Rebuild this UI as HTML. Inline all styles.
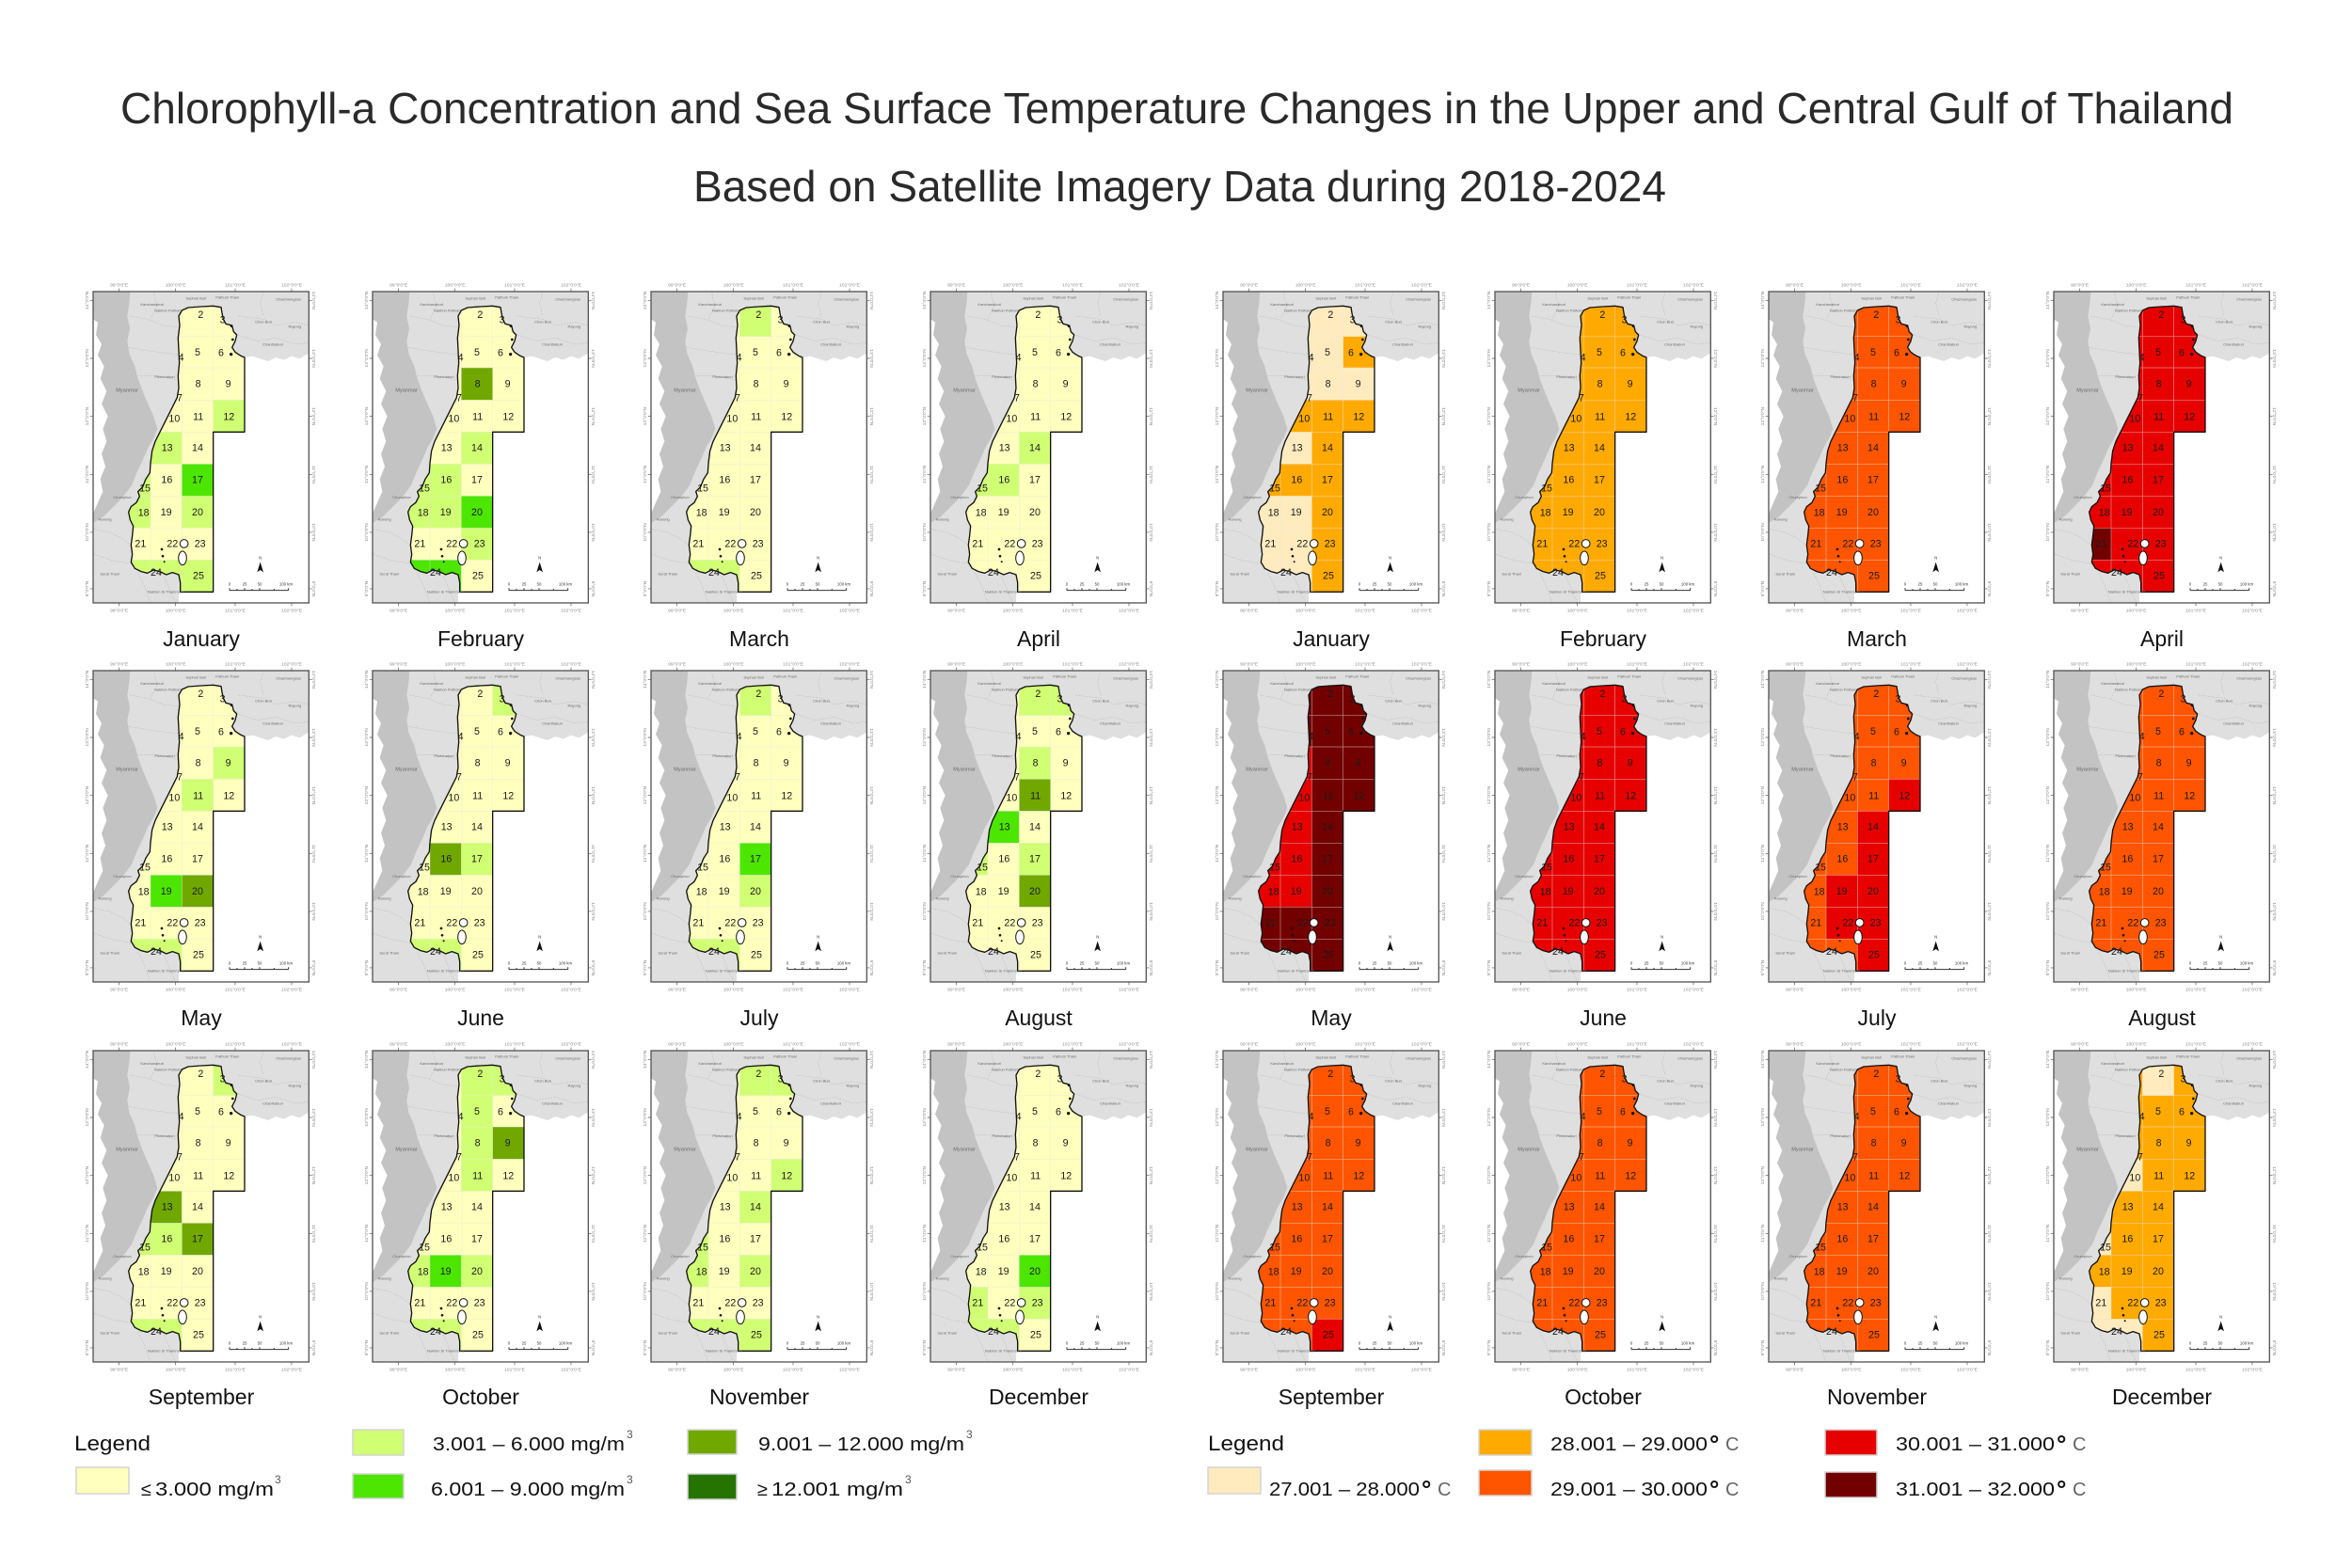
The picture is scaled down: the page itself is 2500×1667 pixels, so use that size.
<!DOCTYPE html>
<html><head><meta charset="utf-8"><style>
html,body{margin:0;padding:0;background:#fff}
svg{display:block}
svg text{font-family:"Liberation Sans",sans-serif}
.n{font-size:32px;text-anchor:middle;fill:#1a1a1a}
.t{font-size:15px;text-anchor:middle;fill:#8a8a8a}
.p{font-size:12px;fill:#6a6a6a;text-anchor:middle}
.s{font-size:13px;fill:#333;text-anchor:middle}
.m{font-size:23px;text-anchor:middle;fill:#111}
.Y{fill:#FFFFBE}.L{fill:#D1FF73}.B{fill:#4CE600}.O{fill:#70A800}.D{fill:#267300}
.a{fill:#FFEBBE}.b{fill:#FFAA00}.c{fill:#FF5500}.d{fill:#E60000}.e{fill:#730000}
</style></head><body>
<svg width="2500" height="1667" viewBox="0 0 2500 1667" xmlns="http://www.w3.org/2000/svg">
<defs>
<clipPath id="cp"><polygon points="340,122 360,113 400,110 440,108 465,112 468,130 472,150 480,165 500,170 505,190 515,200 510,220 500,240 510,255 520,262 530,268 540,272 540,510 440,510 440,1020 335,1020 335,990 330,965 310,958 290,965 270,955 250,950 230,960 210,955 190,945 178,925 182,900 178,870 182,840 185,810 175,790 170,765 178,748 195,735 205,715 200,700 215,685 225,660 238,640 240,610 245,570 255,540 270,510 285,480 295,460 310,430 325,400 330,370 328,330 332,290 330,250 328,210 333,170 330,140"/></clipPath>
<rect id="k1" x="240" y="100" width="100" height="105"/>
<rect id="k2" x="340" y="100" width="100" height="105"/>
<rect id="k3" x="440" y="100" width="105" height="105"/>
<rect id="k4" x="240" y="205" width="100" height="100"/>
<rect id="k5" x="340" y="205" width="100" height="100"/>
<rect id="k6" x="440" y="205" width="105" height="100"/>
<rect id="k7" x="240" y="305" width="100" height="103"/>
<rect id="k8" x="340" y="305" width="100" height="103"/>
<rect id="k9" x="440" y="305" width="105" height="103"/>
<rect id="k10" x="240" y="408" width="100" height="102"/>
<rect id="k11" x="340" y="408" width="100" height="102"/>
<rect id="k12" x="440" y="408" width="105" height="102"/>
<rect id="k13" x="240" y="510" width="100" height="102"/>
<rect id="k14" x="340" y="510" width="100" height="102"/>
<rect id="k15" x="150" y="612" width="90" height="102"/>
<rect id="k16" x="240" y="612" width="100" height="102"/>
<rect id="k17" x="340" y="612" width="100" height="102"/>
<rect id="k18" x="150" y="714" width="90" height="102"/>
<rect id="k19" x="240" y="714" width="100" height="102"/>
<rect id="k20" x="340" y="714" width="100" height="102"/>
<rect id="k21" x="150" y="816" width="90" height="102"/>
<rect id="k22" x="240" y="816" width="100" height="102"/>
<rect id="k23" x="340" y="816" width="100" height="102"/>
<rect id="k24" x="150" y="918" width="190" height="107"/>
<rect id="k25" x="340" y="918" width="100" height="107"/>
<g id="bg">
<rect x="57" y="62" width="688" height="993" fill="#dfdfdf"/>
<polygon points="57,62 175,62 172,100 166,140 174,180 166,220 172,260 190,300 200,340 215,380 232,420 250,460 262,500 250,530 232,560 215,600 196,640 180,680 150,720 120,750 90,780 57,800" fill="#c3c3c3"/>
<polygon points="57,150 72,160 66,200 84,230 72,265 92,300 80,340 100,380 84,420 104,460 88,500 100,540 84,580 96,620 80,660 88,700 70,740 57,770" fill="#fff"/>
<polygon points="540,272 565,268 590,276 615,284 640,272 665,280 690,268 715,276 745,258 745,1055 330,1055 330,1020 440,1020 440,510 540,510" fill="#fff"/>
<g fill="none" stroke="#b3b3b3" stroke-width="1.5" stroke-dasharray="5 4">
<polyline points="175,140 230,150 280,170 330,175"/>
<polyline points="170,240 230,250 300,260 330,262"/>
<polyline points="200,330 260,330 330,345"/>
<polyline points="520,140 600,150 640,170 700,160 745,170"/>
<polyline points="520,200 580,220 640,210 700,230 745,225"/>
<polyline points="600,62 590,100 600,140"/>
<polyline points="250,62 260,110 240,150"/>
<polyline points="60,820 110,830 150,850 175,870"/>
<polyline points="60,900 120,920 178,930"/>
<polyline points="200,960 220,1000 240,1055"/>
<polyline points="280,960 300,1010 320,1055"/>
</g>
</g>
<g id="grid" fill="none" stroke="#e6e6e6" stroke-opacity=".6" stroke-width="2"><path d="M240 510V1020M340 100V1020M440 100V510M330 205H540M330 305H540M320 408H540M240 510H540M150 612H440M150 714H440M150 816H440M150 918H440"/></g>
<g id="fg">
<polygon points="340,122 360,113 400,110 440,108 465,112 468,130 472,150 480,165 500,170 505,190 515,200 510,220 500,240 510,255 520,262 530,268 540,272 540,510 440,510 440,1020 335,1020 335,990 330,965 310,958 290,965 270,955 250,950 230,960 210,955 190,945 178,925 182,900 178,870 182,840 185,810 175,790 170,765 178,748 195,735 205,715 200,700 215,685 225,660 238,640 240,610 245,570 255,540 270,510 285,480 295,460 310,430 325,400 330,370 328,330 332,290 330,250 328,210 333,170 330,140" fill="none" stroke="#111" stroke-width="4" stroke-linejoin="round"/>
<ellipse cx="347" cy="866" rx="13" ry="13" fill="#fff" stroke="#111" stroke-width="3"/>
<ellipse cx="342" cy="912" rx="13" ry="22" fill="#fff" stroke="#111" stroke-width="3"/>
<g fill="#111"><circle cx="498" cy="172" r="4"/><circle cx="502" cy="215" r="4"/><circle cx="497" cy="262" r="5"/><circle cx="276" cy="884" r="4"/><circle cx="279" cy="906" r="4"/><circle cx="284" cy="924" r="3"/></g>
<rect x="57" y="62" width="688" height="993" fill="none" stroke="#555" stroke-width="4"/>
<path d="M140 52v10M320 52v10M510 52v10M690 52v10M140 1055v10M320 1055v10M510 1055v10M690 1055v10M47 90h10M47 275h10M47 460h10M47 645h10M47 830h10M47 1010h10M745 90h10M745 275h10M745 460h10M745 645h10M745 830h10M745 1010h10" stroke="#555" stroke-width="2"/>
<polygon points="590,925 580,957 590,950 600,957" fill="#111"/>
<path d="M492 1015H680M492 1008v7M516 1010v5M540 1008v7M564 1010v5M588 1008v7M634 1010v5M680 1008v7" stroke="#333" stroke-width="3" fill="none"/>
</g>
</defs>

<text x="128" y="131" textLength="2246" lengthAdjust="spacingAndGlyphs" style="font-size:46px;fill:#2a2a2a">Chlorophyll-a Concentration and Sea Surface Temperature Changes in the Upper and Central Gulf of Thailand</text>
<text x="737" y="214" textLength="1034" lengthAdjust="spacingAndGlyphs" style="font-size:46px;fill:#2a2a2a">Based on Satellite Imagery Data during 2018-2024</text>

<!-- ===== Chl Jan ===== -->
<g transform="translate(80 289.33) scale(.3333)">
<use href="#bg"/>
<g clip-path="url(#cp)"><rect x="100" y="90" width="460" height="950" class="Y"/><use href="#k12" class="L"/><use href="#k13" class="L"/><use href="#k15" class="L"/><use href="#k18" class="L"/><use href="#k20" class="L"/><use href="#k24" class="L"/><use href="#k25" class="L"/><use href="#k17" class="B"/><use href="#grid"/></g>
<use href="#fg"/>
<g class="n"><text x="400" y="146">2</text><text x="470" y="163">3</text><text x="338" y="283">4</text><text x="390" y="266">5</text><text x="465" y="268">6</text><text x="333" y="411">7</text><text x="392" y="366">8</text><text x="488" y="366">9</text><text x="316" y="477">10</text><text x="392" y="471">11</text><text x="490" y="471">12</text><text x="293" y="571">13</text><text x="390" y="571">14</text><text x="222" y="699">15</text><text x="292" y="673">16</text><text x="390" y="673">17</text><text x="218" y="778">18</text><text x="290" y="776">19</text><text x="390" y="776">20</text><text x="208" y="876">21</text><text x="310" y="876">22</text><text x="398" y="876">23</text><text x="258" y="968">24</text><text x="393" y="979">25</text></g>
<g class="t"><text x="140" y="46">99°0′0″E</text><text x="320" y="46">100°0′0″E</text><text x="510" y="46">101°0′0″E</text><text x="690" y="46">102°0′0″E</text><text x="140" y="1083">99°0′0″E</text><text x="320" y="1083">100°0′0″E</text><text x="510" y="1083">101°0′0″E</text><text x="690" y="1083">102°0′0″E</text><g transform="rotate(-90)"><text x="-90" y="42">14°0′0″N</text><text x="-275" y="42">13°0′0″N</text><text x="-460" y="42">12°0′0″N</text><text x="-645" y="42">11°0′0″N</text><text x="-830" y="42">10°0′0″N</text><text x="-1010" y="42">9°0′0″N</text></g><g transform="rotate(90)"><text x="90" y="-756">14°0′0″N</text><text x="275" y="-756">13°0′0″N</text><text x="460" y="-756">12°0′0″N</text><text x="645" y="-756">11°0′0″N</text><text x="830" y="-756">10°0′0″N</text><text x="1010" y="-756">9°0′0″N</text></g></g>
<g class="p"><text x="165" y="382" font-size="17">Myanmar</text><text x="245" y="107">Kanchanaburi</text><text x="385" y="88">Suphan Buri</text><text x="295" y="127">Nakhon Pathom</text><text x="485" y="84">Pathum Thani</text><text x="680" y="90">Chachoengsao</text><text x="600" y="162">Chon Buri</text><text x="700" y="177">Rayong</text><text x="630" y="235">Chanthaburi</text><text x="285" y="338">Phetchaburi</text><text x="150" y="722">Chumphon</text><text x="95" y="792">Ranong</text><text x="110" y="966">Surat Thani</text><text x="290" y="1024">Nakhon Si Thammarat</text></g>
<g class="s"><text x="492" y="1000">0</text><text x="540" y="1000">25</text><text x="588" y="1000">50</text><text x="672" y="1000">100 km</text><text x="590" y="915">N</text></g>
</g>

<!-- ===== Chl Feb ===== -->
<g transform="translate(377 289.33) scale(.3333)">
<use href="#bg"/>
<g clip-path="url(#cp)"><rect x="100" y="90" width="460" height="950" class="Y"/><use href="#k8" class="O"/><use href="#k14" class="L"/><use href="#k15" class="L"/><use href="#k16" class="L"/><use href="#k18" class="L"/><use href="#k19" class="L"/><use href="#k23" class="L"/><use href="#k20" class="B"/><use href="#k24" class="B"/><use href="#grid"/></g>
<use href="#fg"/>
<g class="n"><text x="400" y="146">2</text><text x="470" y="163">3</text><text x="338" y="283">4</text><text x="390" y="266">5</text><text x="465" y="268">6</text><text x="333" y="411">7</text><text x="392" y="366">8</text><text x="488" y="366">9</text><text x="316" y="477">10</text><text x="392" y="471">11</text><text x="490" y="471">12</text><text x="293" y="571">13</text><text x="390" y="571">14</text><text x="222" y="699">15</text><text x="292" y="673">16</text><text x="390" y="673">17</text><text x="218" y="778">18</text><text x="290" y="776">19</text><text x="390" y="776">20</text><text x="208" y="876">21</text><text x="310" y="876">22</text><text x="398" y="876">23</text><text x="258" y="968">24</text><text x="393" y="979">25</text></g>
<g class="t"><text x="140" y="46">99°0′0″E</text><text x="320" y="46">100°0′0″E</text><text x="510" y="46">101°0′0″E</text><text x="690" y="46">102°0′0″E</text><text x="140" y="1083">99°0′0″E</text><text x="320" y="1083">100°0′0″E</text><text x="510" y="1083">101°0′0″E</text><text x="690" y="1083">102°0′0″E</text><g transform="rotate(-90)"><text x="-90" y="42">14°0′0″N</text><text x="-275" y="42">13°0′0″N</text><text x="-460" y="42">12°0′0″N</text><text x="-645" y="42">11°0′0″N</text><text x="-830" y="42">10°0′0″N</text><text x="-1010" y="42">9°0′0″N</text></g><g transform="rotate(90)"><text x="90" y="-756">14°0′0″N</text><text x="275" y="-756">13°0′0″N</text><text x="460" y="-756">12°0′0″N</text><text x="645" y="-756">11°0′0″N</text><text x="830" y="-756">10°0′0″N</text><text x="1010" y="-756">9°0′0″N</text></g></g>
<g class="p"><text x="165" y="382" font-size="17">Myanmar</text><text x="245" y="107">Kanchanaburi</text><text x="385" y="88">Suphan Buri</text><text x="295" y="127">Nakhon Pathom</text><text x="485" y="84">Pathum Thani</text><text x="680" y="90">Chachoengsao</text><text x="600" y="162">Chon Buri</text><text x="700" y="177">Rayong</text><text x="630" y="235">Chanthaburi</text><text x="285" y="338">Phetchaburi</text><text x="150" y="722">Chumphon</text><text x="95" y="792">Ranong</text><text x="110" y="966">Surat Thani</text><text x="290" y="1024">Nakhon Si Thammarat</text></g>
<g class="s"><text x="492" y="1000">0</text><text x="540" y="1000">25</text><text x="588" y="1000">50</text><text x="672" y="1000">100 km</text><text x="590" y="915">N</text></g>
</g>

<!-- ===== Chl Mar ===== -->
<g transform="translate(673 289.33) scale(.3333)">
<use href="#bg"/>
<g clip-path="url(#cp)"><rect x="100" y="90" width="460" height="950" class="Y"/><use href="#k2" class="L"/><use href="#k24" class="L"/><use href="#grid"/></g>
<use href="#fg"/>
<g class="n"><text x="400" y="146">2</text><text x="470" y="163">3</text><text x="338" y="283">4</text><text x="390" y="266">5</text><text x="465" y="268">6</text><text x="333" y="411">7</text><text x="392" y="366">8</text><text x="488" y="366">9</text><text x="316" y="477">10</text><text x="392" y="471">11</text><text x="490" y="471">12</text><text x="293" y="571">13</text><text x="390" y="571">14</text><text x="222" y="699">15</text><text x="292" y="673">16</text><text x="390" y="673">17</text><text x="218" y="778">18</text><text x="290" y="776">19</text><text x="390" y="776">20</text><text x="208" y="876">21</text><text x="310" y="876">22</text><text x="398" y="876">23</text><text x="258" y="968">24</text><text x="393" y="979">25</text></g>
<g class="t"><text x="140" y="46">99°0′0″E</text><text x="320" y="46">100°0′0″E</text><text x="510" y="46">101°0′0″E</text><text x="690" y="46">102°0′0″E</text><text x="140" y="1083">99°0′0″E</text><text x="320" y="1083">100°0′0″E</text><text x="510" y="1083">101°0′0″E</text><text x="690" y="1083">102°0′0″E</text><g transform="rotate(-90)"><text x="-90" y="42">14°0′0″N</text><text x="-275" y="42">13°0′0″N</text><text x="-460" y="42">12°0′0″N</text><text x="-645" y="42">11°0′0″N</text><text x="-830" y="42">10°0′0″N</text><text x="-1010" y="42">9°0′0″N</text></g><g transform="rotate(90)"><text x="90" y="-756">14°0′0″N</text><text x="275" y="-756">13°0′0″N</text><text x="460" y="-756">12°0′0″N</text><text x="645" y="-756">11°0′0″N</text><text x="830" y="-756">10°0′0″N</text><text x="1010" y="-756">9°0′0″N</text></g></g>
<g class="p"><text x="165" y="382" font-size="17">Myanmar</text><text x="245" y="107">Kanchanaburi</text><text x="385" y="88">Suphan Buri</text><text x="295" y="127">Nakhon Pathom</text><text x="485" y="84">Pathum Thani</text><text x="680" y="90">Chachoengsao</text><text x="600" y="162">Chon Buri</text><text x="700" y="177">Rayong</text><text x="630" y="235">Chanthaburi</text><text x="285" y="338">Phetchaburi</text><text x="150" y="722">Chumphon</text><text x="95" y="792">Ranong</text><text x="110" y="966">Surat Thani</text><text x="290" y="1024">Nakhon Si Thammarat</text></g>
<g class="s"><text x="492" y="1000">0</text><text x="540" y="1000">25</text><text x="588" y="1000">50</text><text x="672" y="1000">100 km</text><text x="590" y="915">N</text></g>
</g>

<!-- ===== Chl Apr ===== -->
<g transform="translate(970 289.33) scale(.3333)">
<use href="#bg"/>
<g clip-path="url(#cp)"><rect x="100" y="90" width="460" height="950" class="Y"/><use href="#k14" class="L"/><use href="#k15" class="L"/><use href="#k16" class="L"/><use href="#grid"/></g>
<use href="#fg"/>
<g class="n"><text x="400" y="146">2</text><text x="470" y="163">3</text><text x="338" y="283">4</text><text x="390" y="266">5</text><text x="465" y="268">6</text><text x="333" y="411">7</text><text x="392" y="366">8</text><text x="488" y="366">9</text><text x="316" y="477">10</text><text x="392" y="471">11</text><text x="490" y="471">12</text><text x="293" y="571">13</text><text x="390" y="571">14</text><text x="222" y="699">15</text><text x="292" y="673">16</text><text x="390" y="673">17</text><text x="218" y="778">18</text><text x="290" y="776">19</text><text x="390" y="776">20</text><text x="208" y="876">21</text><text x="310" y="876">22</text><text x="398" y="876">23</text><text x="258" y="968">24</text><text x="393" y="979">25</text></g>
<g class="t"><text x="140" y="46">99°0′0″E</text><text x="320" y="46">100°0′0″E</text><text x="510" y="46">101°0′0″E</text><text x="690" y="46">102°0′0″E</text><text x="140" y="1083">99°0′0″E</text><text x="320" y="1083">100°0′0″E</text><text x="510" y="1083">101°0′0″E</text><text x="690" y="1083">102°0′0″E</text><g transform="rotate(-90)"><text x="-90" y="42">14°0′0″N</text><text x="-275" y="42">13°0′0″N</text><text x="-460" y="42">12°0′0″N</text><text x="-645" y="42">11°0′0″N</text><text x="-830" y="42">10°0′0″N</text><text x="-1010" y="42">9°0′0″N</text></g><g transform="rotate(90)"><text x="90" y="-756">14°0′0″N</text><text x="275" y="-756">13°0′0″N</text><text x="460" y="-756">12°0′0″N</text><text x="645" y="-756">11°0′0″N</text><text x="830" y="-756">10°0′0″N</text><text x="1010" y="-756">9°0′0″N</text></g></g>
<g class="p"><text x="165" y="382" font-size="17">Myanmar</text><text x="245" y="107">Kanchanaburi</text><text x="385" y="88">Suphan Buri</text><text x="295" y="127">Nakhon Pathom</text><text x="485" y="84">Pathum Thani</text><text x="680" y="90">Chachoengsao</text><text x="600" y="162">Chon Buri</text><text x="700" y="177">Rayong</text><text x="630" y="235">Chanthaburi</text><text x="285" y="338">Phetchaburi</text><text x="150" y="722">Chumphon</text><text x="95" y="792">Ranong</text><text x="110" y="966">Surat Thani</text><text x="290" y="1024">Nakhon Si Thammarat</text></g>
<g class="s"><text x="492" y="1000">0</text><text x="540" y="1000">25</text><text x="588" y="1000">50</text><text x="672" y="1000">100 km</text><text x="590" y="915">N</text></g>
</g>

<!-- ===== Chl May ===== -->
<g transform="translate(80 692.33) scale(.3333)">
<use href="#bg"/>
<g clip-path="url(#cp)"><rect x="100" y="90" width="460" height="950" class="Y"/><use href="#k9" class="L"/><use href="#k11" class="L"/><use href="#k24" class="L"/><use href="#k19" class="B"/><use href="#k20" class="O"/><use href="#grid"/></g>
<use href="#fg"/>
<g class="n"><text x="400" y="146">2</text><text x="470" y="163">3</text><text x="338" y="283">4</text><text x="390" y="266">5</text><text x="465" y="268">6</text><text x="333" y="411">7</text><text x="392" y="366">8</text><text x="488" y="366">9</text><text x="316" y="477">10</text><text x="392" y="471">11</text><text x="490" y="471">12</text><text x="293" y="571">13</text><text x="390" y="571">14</text><text x="222" y="699">15</text><text x="292" y="673">16</text><text x="390" y="673">17</text><text x="218" y="778">18</text><text x="290" y="776">19</text><text x="390" y="776">20</text><text x="208" y="876">21</text><text x="310" y="876">22</text><text x="398" y="876">23</text><text x="258" y="968">24</text><text x="393" y="979">25</text></g>
<g class="t"><text x="140" y="46">99°0′0″E</text><text x="320" y="46">100°0′0″E</text><text x="510" y="46">101°0′0″E</text><text x="690" y="46">102°0′0″E</text><text x="140" y="1083">99°0′0″E</text><text x="320" y="1083">100°0′0″E</text><text x="510" y="1083">101°0′0″E</text><text x="690" y="1083">102°0′0″E</text><g transform="rotate(-90)"><text x="-90" y="42">14°0′0″N</text><text x="-275" y="42">13°0′0″N</text><text x="-460" y="42">12°0′0″N</text><text x="-645" y="42">11°0′0″N</text><text x="-830" y="42">10°0′0″N</text><text x="-1010" y="42">9°0′0″N</text></g><g transform="rotate(90)"><text x="90" y="-756">14°0′0″N</text><text x="275" y="-756">13°0′0″N</text><text x="460" y="-756">12°0′0″N</text><text x="645" y="-756">11°0′0″N</text><text x="830" y="-756">10°0′0″N</text><text x="1010" y="-756">9°0′0″N</text></g></g>
<g class="p"><text x="165" y="382" font-size="17">Myanmar</text><text x="245" y="107">Kanchanaburi</text><text x="385" y="88">Suphan Buri</text><text x="295" y="127">Nakhon Pathom</text><text x="485" y="84">Pathum Thani</text><text x="680" y="90">Chachoengsao</text><text x="600" y="162">Chon Buri</text><text x="700" y="177">Rayong</text><text x="630" y="235">Chanthaburi</text><text x="285" y="338">Phetchaburi</text><text x="150" y="722">Chumphon</text><text x="95" y="792">Ranong</text><text x="110" y="966">Surat Thani</text><text x="290" y="1024">Nakhon Si Thammarat</text></g>
<g class="s"><text x="492" y="1000">0</text><text x="540" y="1000">25</text><text x="588" y="1000">50</text><text x="672" y="1000">100 km</text><text x="590" y="915">N</text></g>
</g>

<!-- ===== Chl Jun ===== -->
<g transform="translate(377 692.33) scale(.3333)">
<use href="#bg"/>
<g clip-path="url(#cp)"><rect x="100" y="90" width="460" height="950" class="Y"/><use href="#k3" class="L"/><use href="#k17" class="L"/><use href="#k24" class="L"/><use href="#k16" class="O"/><use href="#grid"/></g>
<use href="#fg"/>
<g class="n"><text x="400" y="146">2</text><text x="470" y="163">3</text><text x="338" y="283">4</text><text x="390" y="266">5</text><text x="465" y="268">6</text><text x="333" y="411">7</text><text x="392" y="366">8</text><text x="488" y="366">9</text><text x="316" y="477">10</text><text x="392" y="471">11</text><text x="490" y="471">12</text><text x="293" y="571">13</text><text x="390" y="571">14</text><text x="222" y="699">15</text><text x="292" y="673">16</text><text x="390" y="673">17</text><text x="218" y="778">18</text><text x="290" y="776">19</text><text x="390" y="776">20</text><text x="208" y="876">21</text><text x="310" y="876">22</text><text x="398" y="876">23</text><text x="258" y="968">24</text><text x="393" y="979">25</text></g>
<g class="t"><text x="140" y="46">99°0′0″E</text><text x="320" y="46">100°0′0″E</text><text x="510" y="46">101°0′0″E</text><text x="690" y="46">102°0′0″E</text><text x="140" y="1083">99°0′0″E</text><text x="320" y="1083">100°0′0″E</text><text x="510" y="1083">101°0′0″E</text><text x="690" y="1083">102°0′0″E</text><g transform="rotate(-90)"><text x="-90" y="42">14°0′0″N</text><text x="-275" y="42">13°0′0″N</text><text x="-460" y="42">12°0′0″N</text><text x="-645" y="42">11°0′0″N</text><text x="-830" y="42">10°0′0″N</text><text x="-1010" y="42">9°0′0″N</text></g><g transform="rotate(90)"><text x="90" y="-756">14°0′0″N</text><text x="275" y="-756">13°0′0″N</text><text x="460" y="-756">12°0′0″N</text><text x="645" y="-756">11°0′0″N</text><text x="830" y="-756">10°0′0″N</text><text x="1010" y="-756">9°0′0″N</text></g></g>
<g class="p"><text x="165" y="382" font-size="17">Myanmar</text><text x="245" y="107">Kanchanaburi</text><text x="385" y="88">Suphan Buri</text><text x="295" y="127">Nakhon Pathom</text><text x="485" y="84">Pathum Thani</text><text x="680" y="90">Chachoengsao</text><text x="600" y="162">Chon Buri</text><text x="700" y="177">Rayong</text><text x="630" y="235">Chanthaburi</text><text x="285" y="338">Phetchaburi</text><text x="150" y="722">Chumphon</text><text x="95" y="792">Ranong</text><text x="110" y="966">Surat Thani</text><text x="290" y="1024">Nakhon Si Thammarat</text></g>
<g class="s"><text x="492" y="1000">0</text><text x="540" y="1000">25</text><text x="588" y="1000">50</text><text x="672" y="1000">100 km</text><text x="590" y="915">N</text></g>
</g>

<!-- ===== Chl Jul ===== -->
<g transform="translate(673 692.33) scale(.3333)">
<use href="#bg"/>
<g clip-path="url(#cp)"><rect x="100" y="90" width="460" height="950" class="Y"/><use href="#k2" class="L"/><use href="#k20" class="L"/><use href="#k24" class="L"/><use href="#k17" class="B"/><use href="#grid"/></g>
<use href="#fg"/>
<g class="n"><text x="400" y="146">2</text><text x="470" y="163">3</text><text x="338" y="283">4</text><text x="390" y="266">5</text><text x="465" y="268">6</text><text x="333" y="411">7</text><text x="392" y="366">8</text><text x="488" y="366">9</text><text x="316" y="477">10</text><text x="392" y="471">11</text><text x="490" y="471">12</text><text x="293" y="571">13</text><text x="390" y="571">14</text><text x="222" y="699">15</text><text x="292" y="673">16</text><text x="390" y="673">17</text><text x="218" y="778">18</text><text x="290" y="776">19</text><text x="390" y="776">20</text><text x="208" y="876">21</text><text x="310" y="876">22</text><text x="398" y="876">23</text><text x="258" y="968">24</text><text x="393" y="979">25</text></g>
<g class="t"><text x="140" y="46">99°0′0″E</text><text x="320" y="46">100°0′0″E</text><text x="510" y="46">101°0′0″E</text><text x="690" y="46">102°0′0″E</text><text x="140" y="1083">99°0′0″E</text><text x="320" y="1083">100°0′0″E</text><text x="510" y="1083">101°0′0″E</text><text x="690" y="1083">102°0′0″E</text><g transform="rotate(-90)"><text x="-90" y="42">14°0′0″N</text><text x="-275" y="42">13°0′0″N</text><text x="-460" y="42">12°0′0″N</text><text x="-645" y="42">11°0′0″N</text><text x="-830" y="42">10°0′0″N</text><text x="-1010" y="42">9°0′0″N</text></g><g transform="rotate(90)"><text x="90" y="-756">14°0′0″N</text><text x="275" y="-756">13°0′0″N</text><text x="460" y="-756">12°0′0″N</text><text x="645" y="-756">11°0′0″N</text><text x="830" y="-756">10°0′0″N</text><text x="1010" y="-756">9°0′0″N</text></g></g>
<g class="p"><text x="165" y="382" font-size="17">Myanmar</text><text x="245" y="107">Kanchanaburi</text><text x="385" y="88">Suphan Buri</text><text x="295" y="127">Nakhon Pathom</text><text x="485" y="84">Pathum Thani</text><text x="680" y="90">Chachoengsao</text><text x="600" y="162">Chon Buri</text><text x="700" y="177">Rayong</text><text x="630" y="235">Chanthaburi</text><text x="285" y="338">Phetchaburi</text><text x="150" y="722">Chumphon</text><text x="95" y="792">Ranong</text><text x="110" y="966">Surat Thani</text><text x="290" y="1024">Nakhon Si Thammarat</text></g>
<g class="s"><text x="492" y="1000">0</text><text x="540" y="1000">25</text><text x="588" y="1000">50</text><text x="672" y="1000">100 km</text><text x="590" y="915">N</text></g>
</g>

<!-- ===== Chl Aug ===== -->
<g transform="translate(970 692.33) scale(.3333)">
<use href="#bg"/>
<g clip-path="url(#cp)"><rect x="100" y="90" width="460" height="950" class="Y"/><use href="#k2" class="L"/><use href="#k3" class="L"/><use href="#k8" class="L"/><use href="#k15" class="L"/><use href="#k17" class="L"/><use href="#k11" class="O"/><use href="#k20" class="O"/><use href="#k13" class="B"/><use href="#grid"/></g>
<use href="#fg"/>
<g class="n"><text x="400" y="146">2</text><text x="470" y="163">3</text><text x="338" y="283">4</text><text x="390" y="266">5</text><text x="465" y="268">6</text><text x="333" y="411">7</text><text x="392" y="366">8</text><text x="488" y="366">9</text><text x="316" y="477">10</text><text x="392" y="471">11</text><text x="490" y="471">12</text><text x="293" y="571">13</text><text x="390" y="571">14</text><text x="222" y="699">15</text><text x="292" y="673">16</text><text x="390" y="673">17</text><text x="218" y="778">18</text><text x="290" y="776">19</text><text x="390" y="776">20</text><text x="208" y="876">21</text><text x="310" y="876">22</text><text x="398" y="876">23</text><text x="258" y="968">24</text><text x="393" y="979">25</text></g>
<g class="t"><text x="140" y="46">99°0′0″E</text><text x="320" y="46">100°0′0″E</text><text x="510" y="46">101°0′0″E</text><text x="690" y="46">102°0′0″E</text><text x="140" y="1083">99°0′0″E</text><text x="320" y="1083">100°0′0″E</text><text x="510" y="1083">101°0′0″E</text><text x="690" y="1083">102°0′0″E</text><g transform="rotate(-90)"><text x="-90" y="42">14°0′0″N</text><text x="-275" y="42">13°0′0″N</text><text x="-460" y="42">12°0′0″N</text><text x="-645" y="42">11°0′0″N</text><text x="-830" y="42">10°0′0″N</text><text x="-1010" y="42">9°0′0″N</text></g><g transform="rotate(90)"><text x="90" y="-756">14°0′0″N</text><text x="275" y="-756">13°0′0″N</text><text x="460" y="-756">12°0′0″N</text><text x="645" y="-756">11°0′0″N</text><text x="830" y="-756">10°0′0″N</text><text x="1010" y="-756">9°0′0″N</text></g></g>
<g class="p"><text x="165" y="382" font-size="17">Myanmar</text><text x="245" y="107">Kanchanaburi</text><text x="385" y="88">Suphan Buri</text><text x="295" y="127">Nakhon Pathom</text><text x="485" y="84">Pathum Thani</text><text x="680" y="90">Chachoengsao</text><text x="600" y="162">Chon Buri</text><text x="700" y="177">Rayong</text><text x="630" y="235">Chanthaburi</text><text x="285" y="338">Phetchaburi</text><text x="150" y="722">Chumphon</text><text x="95" y="792">Ranong</text><text x="110" y="966">Surat Thani</text><text x="290" y="1024">Nakhon Si Thammarat</text></g>
<g class="s"><text x="492" y="1000">0</text><text x="540" y="1000">25</text><text x="588" y="1000">50</text><text x="672" y="1000">100 km</text><text x="590" y="915">N</text></g>
</g>

<!-- ===== Chl Sep ===== -->
<g transform="translate(80 1096.33) scale(.3333)">
<use href="#bg"/>
<g clip-path="url(#cp)"><rect x="100" y="90" width="460" height="950" class="Y"/><use href="#k3" class="L"/><use href="#k15" class="L"/><use href="#k16" class="L"/><use href="#k24" class="L"/><use href="#k13" class="O"/><use href="#k17" class="O"/><use href="#grid"/></g>
<use href="#fg"/>
<g class="n"><text x="400" y="146">2</text><text x="470" y="163">3</text><text x="338" y="283">4</text><text x="390" y="266">5</text><text x="465" y="268">6</text><text x="333" y="411">7</text><text x="392" y="366">8</text><text x="488" y="366">9</text><text x="316" y="477">10</text><text x="392" y="471">11</text><text x="490" y="471">12</text><text x="293" y="571">13</text><text x="390" y="571">14</text><text x="222" y="699">15</text><text x="292" y="673">16</text><text x="390" y="673">17</text><text x="218" y="778">18</text><text x="290" y="776">19</text><text x="390" y="776">20</text><text x="208" y="876">21</text><text x="310" y="876">22</text><text x="398" y="876">23</text><text x="258" y="968">24</text><text x="393" y="979">25</text></g>
<g class="t"><text x="140" y="46">99°0′0″E</text><text x="320" y="46">100°0′0″E</text><text x="510" y="46">101°0′0″E</text><text x="690" y="46">102°0′0″E</text><text x="140" y="1083">99°0′0″E</text><text x="320" y="1083">100°0′0″E</text><text x="510" y="1083">101°0′0″E</text><text x="690" y="1083">102°0′0″E</text><g transform="rotate(-90)"><text x="-90" y="42">14°0′0″N</text><text x="-275" y="42">13°0′0″N</text><text x="-460" y="42">12°0′0″N</text><text x="-645" y="42">11°0′0″N</text><text x="-830" y="42">10°0′0″N</text><text x="-1010" y="42">9°0′0″N</text></g><g transform="rotate(90)"><text x="90" y="-756">14°0′0″N</text><text x="275" y="-756">13°0′0″N</text><text x="460" y="-756">12°0′0″N</text><text x="645" y="-756">11°0′0″N</text><text x="830" y="-756">10°0′0″N</text><text x="1010" y="-756">9°0′0″N</text></g></g>
<g class="p"><text x="165" y="382" font-size="17">Myanmar</text><text x="245" y="107">Kanchanaburi</text><text x="385" y="88">Suphan Buri</text><text x="295" y="127">Nakhon Pathom</text><text x="485" y="84">Pathum Thani</text><text x="680" y="90">Chachoengsao</text><text x="600" y="162">Chon Buri</text><text x="700" y="177">Rayong</text><text x="630" y="235">Chanthaburi</text><text x="285" y="338">Phetchaburi</text><text x="150" y="722">Chumphon</text><text x="95" y="792">Ranong</text><text x="110" y="966">Surat Thani</text><text x="290" y="1024">Nakhon Si Thammarat</text></g>
<g class="s"><text x="492" y="1000">0</text><text x="540" y="1000">25</text><text x="588" y="1000">50</text><text x="672" y="1000">100 km</text><text x="590" y="915">N</text></g>
</g>

<!-- ===== Chl Oct ===== -->
<g transform="translate(377 1096.33) scale(.3333)">
<use href="#bg"/>
<g clip-path="url(#cp)"><rect x="100" y="90" width="460" height="950" class="Y"/><use href="#k2" class="L"/><use href="#k3" class="L"/><use href="#k5" class="L"/><use href="#k8" class="L"/><use href="#k11" class="L"/><use href="#k18" class="L"/><use href="#k20" class="L"/><use href="#k24" class="L"/><use href="#k9" class="O"/><use href="#k19" class="B"/><use href="#grid"/></g>
<use href="#fg"/>
<g class="n"><text x="400" y="146">2</text><text x="470" y="163">3</text><text x="338" y="283">4</text><text x="390" y="266">5</text><text x="465" y="268">6</text><text x="333" y="411">7</text><text x="392" y="366">8</text><text x="488" y="366">9</text><text x="316" y="477">10</text><text x="392" y="471">11</text><text x="490" y="471">12</text><text x="293" y="571">13</text><text x="390" y="571">14</text><text x="222" y="699">15</text><text x="292" y="673">16</text><text x="390" y="673">17</text><text x="218" y="778">18</text><text x="290" y="776">19</text><text x="390" y="776">20</text><text x="208" y="876">21</text><text x="310" y="876">22</text><text x="398" y="876">23</text><text x="258" y="968">24</text><text x="393" y="979">25</text></g>
<g class="t"><text x="140" y="46">99°0′0″E</text><text x="320" y="46">100°0′0″E</text><text x="510" y="46">101°0′0″E</text><text x="690" y="46">102°0′0″E</text><text x="140" y="1083">99°0′0″E</text><text x="320" y="1083">100°0′0″E</text><text x="510" y="1083">101°0′0″E</text><text x="690" y="1083">102°0′0″E</text><g transform="rotate(-90)"><text x="-90" y="42">14°0′0″N</text><text x="-275" y="42">13°0′0″N</text><text x="-460" y="42">12°0′0″N</text><text x="-645" y="42">11°0′0″N</text><text x="-830" y="42">10°0′0″N</text><text x="-1010" y="42">9°0′0″N</text></g><g transform="rotate(90)"><text x="90" y="-756">14°0′0″N</text><text x="275" y="-756">13°0′0″N</text><text x="460" y="-756">12°0′0″N</text><text x="645" y="-756">11°0′0″N</text><text x="830" y="-756">10°0′0″N</text><text x="1010" y="-756">9°0′0″N</text></g></g>
<g class="p"><text x="165" y="382" font-size="17">Myanmar</text><text x="245" y="107">Kanchanaburi</text><text x="385" y="88">Suphan Buri</text><text x="295" y="127">Nakhon Pathom</text><text x="485" y="84">Pathum Thani</text><text x="680" y="90">Chachoengsao</text><text x="600" y="162">Chon Buri</text><text x="700" y="177">Rayong</text><text x="630" y="235">Chanthaburi</text><text x="285" y="338">Phetchaburi</text><text x="150" y="722">Chumphon</text><text x="95" y="792">Ranong</text><text x="110" y="966">Surat Thani</text><text x="290" y="1024">Nakhon Si Thammarat</text></g>
<g class="s"><text x="492" y="1000">0</text><text x="540" y="1000">25</text><text x="588" y="1000">50</text><text x="672" y="1000">100 km</text><text x="590" y="915">N</text></g>
</g>

<!-- ===== Chl Nov ===== -->
<g transform="translate(673 1096.33) scale(.3333)">
<use href="#bg"/>
<g clip-path="url(#cp)"><rect x="100" y="90" width="460" height="950" class="Y"/><use href="#k2" class="L"/><use href="#k3" class="L"/><use href="#k12" class="L"/><use href="#k14" class="L"/><use href="#k15" class="L"/><use href="#k18" class="L"/><use href="#k20" class="L"/><use href="#k24" class="L"/><use href="#k25" class="L"/><use href="#grid"/></g>
<use href="#fg"/>
<g class="n"><text x="400" y="146">2</text><text x="470" y="163">3</text><text x="338" y="283">4</text><text x="390" y="266">5</text><text x="465" y="268">6</text><text x="333" y="411">7</text><text x="392" y="366">8</text><text x="488" y="366">9</text><text x="316" y="477">10</text><text x="392" y="471">11</text><text x="490" y="471">12</text><text x="293" y="571">13</text><text x="390" y="571">14</text><text x="222" y="699">15</text><text x="292" y="673">16</text><text x="390" y="673">17</text><text x="218" y="778">18</text><text x="290" y="776">19</text><text x="390" y="776">20</text><text x="208" y="876">21</text><text x="310" y="876">22</text><text x="398" y="876">23</text><text x="258" y="968">24</text><text x="393" y="979">25</text></g>
<g class="t"><text x="140" y="46">99°0′0″E</text><text x="320" y="46">100°0′0″E</text><text x="510" y="46">101°0′0″E</text><text x="690" y="46">102°0′0″E</text><text x="140" y="1083">99°0′0″E</text><text x="320" y="1083">100°0′0″E</text><text x="510" y="1083">101°0′0″E</text><text x="690" y="1083">102°0′0″E</text><g transform="rotate(-90)"><text x="-90" y="42">14°0′0″N</text><text x="-275" y="42">13°0′0″N</text><text x="-460" y="42">12°0′0″N</text><text x="-645" y="42">11°0′0″N</text><text x="-830" y="42">10°0′0″N</text><text x="-1010" y="42">9°0′0″N</text></g><g transform="rotate(90)"><text x="90" y="-756">14°0′0″N</text><text x="275" y="-756">13°0′0″N</text><text x="460" y="-756">12°0′0″N</text><text x="645" y="-756">11°0′0″N</text><text x="830" y="-756">10°0′0″N</text><text x="1010" y="-756">9°0′0″N</text></g></g>
<g class="p"><text x="165" y="382" font-size="17">Myanmar</text><text x="245" y="107">Kanchanaburi</text><text x="385" y="88">Suphan Buri</text><text x="295" y="127">Nakhon Pathom</text><text x="485" y="84">Pathum Thani</text><text x="680" y="90">Chachoengsao</text><text x="600" y="162">Chon Buri</text><text x="700" y="177">Rayong</text><text x="630" y="235">Chanthaburi</text><text x="285" y="338">Phetchaburi</text><text x="150" y="722">Chumphon</text><text x="95" y="792">Ranong</text><text x="110" y="966">Surat Thani</text><text x="290" y="1024">Nakhon Si Thammarat</text></g>
<g class="s"><text x="492" y="1000">0</text><text x="540" y="1000">25</text><text x="588" y="1000">50</text><text x="672" y="1000">100 km</text><text x="590" y="915">N</text></g>
</g>

<!-- ===== Chl Dec ===== -->
<g transform="translate(970 1096.33) scale(.3333)">
<use href="#bg"/>
<g clip-path="url(#cp)"><rect x="100" y="90" width="460" height="950" class="Y"/><use href="#k21" class="L"/><use href="#k23" class="L"/><use href="#k24" class="L"/><use href="#k20" class="B"/><use href="#grid"/></g>
<use href="#fg"/>
<g class="n"><text x="400" y="146">2</text><text x="470" y="163">3</text><text x="338" y="283">4</text><text x="390" y="266">5</text><text x="465" y="268">6</text><text x="333" y="411">7</text><text x="392" y="366">8</text><text x="488" y="366">9</text><text x="316" y="477">10</text><text x="392" y="471">11</text><text x="490" y="471">12</text><text x="293" y="571">13</text><text x="390" y="571">14</text><text x="222" y="699">15</text><text x="292" y="673">16</text><text x="390" y="673">17</text><text x="218" y="778">18</text><text x="290" y="776">19</text><text x="390" y="776">20</text><text x="208" y="876">21</text><text x="310" y="876">22</text><text x="398" y="876">23</text><text x="258" y="968">24</text><text x="393" y="979">25</text></g>
<g class="t"><text x="140" y="46">99°0′0″E</text><text x="320" y="46">100°0′0″E</text><text x="510" y="46">101°0′0″E</text><text x="690" y="46">102°0′0″E</text><text x="140" y="1083">99°0′0″E</text><text x="320" y="1083">100°0′0″E</text><text x="510" y="1083">101°0′0″E</text><text x="690" y="1083">102°0′0″E</text><g transform="rotate(-90)"><text x="-90" y="42">14°0′0″N</text><text x="-275" y="42">13°0′0″N</text><text x="-460" y="42">12°0′0″N</text><text x="-645" y="42">11°0′0″N</text><text x="-830" y="42">10°0′0″N</text><text x="-1010" y="42">9°0′0″N</text></g><g transform="rotate(90)"><text x="90" y="-756">14°0′0″N</text><text x="275" y="-756">13°0′0″N</text><text x="460" y="-756">12°0′0″N</text><text x="645" y="-756">11°0′0″N</text><text x="830" y="-756">10°0′0″N</text><text x="1010" y="-756">9°0′0″N</text></g></g>
<g class="p"><text x="165" y="382" font-size="17">Myanmar</text><text x="245" y="107">Kanchanaburi</text><text x="385" y="88">Suphan Buri</text><text x="295" y="127">Nakhon Pathom</text><text x="485" y="84">Pathum Thani</text><text x="680" y="90">Chachoengsao</text><text x="600" y="162">Chon Buri</text><text x="700" y="177">Rayong</text><text x="630" y="235">Chanthaburi</text><text x="285" y="338">Phetchaburi</text><text x="150" y="722">Chumphon</text><text x="95" y="792">Ranong</text><text x="110" y="966">Surat Thani</text><text x="290" y="1024">Nakhon Si Thammarat</text></g>
<g class="s"><text x="492" y="1000">0</text><text x="540" y="1000">25</text><text x="588" y="1000">50</text><text x="672" y="1000">100 km</text><text x="590" y="915">N</text></g>
</g>

<!-- ===== SST Jan ===== -->
<g transform="translate(1281 289.33) scale(.3333)">
<use href="#bg"/>
<g clip-path="url(#cp)"><rect x="100" y="90" width="460" height="950" class="a"/><use href="#k6" class="b"/><use href="#k10" class="b"/><use href="#k11" class="b"/><use href="#k12" class="b"/><use href="#k14" class="b"/><use href="#k15" class="b"/><use href="#k16" class="b"/><use href="#k17" class="b"/><use href="#k20" class="b"/><use href="#k23" class="b"/><use href="#k25" class="b"/><use href="#grid"/></g>
<use href="#fg"/>
<g class="n"><text x="400" y="146">2</text><text x="470" y="163">3</text><text x="338" y="283">4</text><text x="390" y="266">5</text><text x="465" y="268">6</text><text x="333" y="411">7</text><text x="392" y="366">8</text><text x="488" y="366">9</text><text x="316" y="477">10</text><text x="392" y="471">11</text><text x="490" y="471">12</text><text x="293" y="571">13</text><text x="390" y="571">14</text><text x="222" y="699">15</text><text x="292" y="673">16</text><text x="390" y="673">17</text><text x="218" y="778">18</text><text x="290" y="776">19</text><text x="390" y="776">20</text><text x="208" y="876">21</text><text x="310" y="876">22</text><text x="398" y="876">23</text><text x="258" y="968">24</text><text x="393" y="979">25</text></g>
<g class="t"><text x="140" y="46">99°0′0″E</text><text x="320" y="46">100°0′0″E</text><text x="510" y="46">101°0′0″E</text><text x="690" y="46">102°0′0″E</text><text x="140" y="1083">99°0′0″E</text><text x="320" y="1083">100°0′0″E</text><text x="510" y="1083">101°0′0″E</text><text x="690" y="1083">102°0′0″E</text><g transform="rotate(-90)"><text x="-90" y="42">14°0′0″N</text><text x="-275" y="42">13°0′0″N</text><text x="-460" y="42">12°0′0″N</text><text x="-645" y="42">11°0′0″N</text><text x="-830" y="42">10°0′0″N</text><text x="-1010" y="42">9°0′0″N</text></g><g transform="rotate(90)"><text x="90" y="-756">14°0′0″N</text><text x="275" y="-756">13°0′0″N</text><text x="460" y="-756">12°0′0″N</text><text x="645" y="-756">11°0′0″N</text><text x="830" y="-756">10°0′0″N</text><text x="1010" y="-756">9°0′0″N</text></g></g>
<g class="p"><text x="165" y="382" font-size="17">Myanmar</text><text x="245" y="107">Kanchanaburi</text><text x="385" y="88">Suphan Buri</text><text x="295" y="127">Nakhon Pathom</text><text x="485" y="84">Pathum Thani</text><text x="680" y="90">Chachoengsao</text><text x="600" y="162">Chon Buri</text><text x="700" y="177">Rayong</text><text x="630" y="235">Chanthaburi</text><text x="285" y="338">Phetchaburi</text><text x="150" y="722">Chumphon</text><text x="95" y="792">Ranong</text><text x="110" y="966">Surat Thani</text><text x="290" y="1024">Nakhon Si Thammarat</text></g>
<g class="s"><text x="492" y="1000">0</text><text x="540" y="1000">25</text><text x="588" y="1000">50</text><text x="672" y="1000">100 km</text><text x="590" y="915">N</text></g>
</g>

<!-- ===== SST Feb ===== -->
<g transform="translate(1570 289.33) scale(.3333)">
<use href="#bg"/>
<g clip-path="url(#cp)"><rect x="100" y="90" width="460" height="950" class="b"/><use href="#grid"/></g>
<use href="#fg"/>
<g class="n"><text x="400" y="146">2</text><text x="470" y="163">3</text><text x="338" y="283">4</text><text x="390" y="266">5</text><text x="465" y="268">6</text><text x="333" y="411">7</text><text x="392" y="366">8</text><text x="488" y="366">9</text><text x="316" y="477">10</text><text x="392" y="471">11</text><text x="490" y="471">12</text><text x="293" y="571">13</text><text x="390" y="571">14</text><text x="222" y="699">15</text><text x="292" y="673">16</text><text x="390" y="673">17</text><text x="218" y="778">18</text><text x="290" y="776">19</text><text x="390" y="776">20</text><text x="208" y="876">21</text><text x="310" y="876">22</text><text x="398" y="876">23</text><text x="258" y="968">24</text><text x="393" y="979">25</text></g>
<g class="t"><text x="140" y="46">99°0′0″E</text><text x="320" y="46">100°0′0″E</text><text x="510" y="46">101°0′0″E</text><text x="690" y="46">102°0′0″E</text><text x="140" y="1083">99°0′0″E</text><text x="320" y="1083">100°0′0″E</text><text x="510" y="1083">101°0′0″E</text><text x="690" y="1083">102°0′0″E</text><g transform="rotate(-90)"><text x="-90" y="42">14°0′0″N</text><text x="-275" y="42">13°0′0″N</text><text x="-460" y="42">12°0′0″N</text><text x="-645" y="42">11°0′0″N</text><text x="-830" y="42">10°0′0″N</text><text x="-1010" y="42">9°0′0″N</text></g><g transform="rotate(90)"><text x="90" y="-756">14°0′0″N</text><text x="275" y="-756">13°0′0″N</text><text x="460" y="-756">12°0′0″N</text><text x="645" y="-756">11°0′0″N</text><text x="830" y="-756">10°0′0″N</text><text x="1010" y="-756">9°0′0″N</text></g></g>
<g class="p"><text x="165" y="382" font-size="17">Myanmar</text><text x="245" y="107">Kanchanaburi</text><text x="385" y="88">Suphan Buri</text><text x="295" y="127">Nakhon Pathom</text><text x="485" y="84">Pathum Thani</text><text x="680" y="90">Chachoengsao</text><text x="600" y="162">Chon Buri</text><text x="700" y="177">Rayong</text><text x="630" y="235">Chanthaburi</text><text x="285" y="338">Phetchaburi</text><text x="150" y="722">Chumphon</text><text x="95" y="792">Ranong</text><text x="110" y="966">Surat Thani</text><text x="290" y="1024">Nakhon Si Thammarat</text></g>
<g class="s"><text x="492" y="1000">0</text><text x="540" y="1000">25</text><text x="588" y="1000">50</text><text x="672" y="1000">100 km</text><text x="590" y="915">N</text></g>
</g>

<!-- ===== SST Mar ===== -->
<g transform="translate(1861 289.33) scale(.3333)">
<use href="#bg"/>
<g clip-path="url(#cp)"><rect x="100" y="90" width="460" height="950" class="c"/><use href="#grid"/></g>
<use href="#fg"/>
<g class="n"><text x="400" y="146">2</text><text x="470" y="163">3</text><text x="338" y="283">4</text><text x="390" y="266">5</text><text x="465" y="268">6</text><text x="333" y="411">7</text><text x="392" y="366">8</text><text x="488" y="366">9</text><text x="316" y="477">10</text><text x="392" y="471">11</text><text x="490" y="471">12</text><text x="293" y="571">13</text><text x="390" y="571">14</text><text x="222" y="699">15</text><text x="292" y="673">16</text><text x="390" y="673">17</text><text x="218" y="778">18</text><text x="290" y="776">19</text><text x="390" y="776">20</text><text x="208" y="876">21</text><text x="310" y="876">22</text><text x="398" y="876">23</text><text x="258" y="968">24</text><text x="393" y="979">25</text></g>
<g class="t"><text x="140" y="46">99°0′0″E</text><text x="320" y="46">100°0′0″E</text><text x="510" y="46">101°0′0″E</text><text x="690" y="46">102°0′0″E</text><text x="140" y="1083">99°0′0″E</text><text x="320" y="1083">100°0′0″E</text><text x="510" y="1083">101°0′0″E</text><text x="690" y="1083">102°0′0″E</text><g transform="rotate(-90)"><text x="-90" y="42">14°0′0″N</text><text x="-275" y="42">13°0′0″N</text><text x="-460" y="42">12°0′0″N</text><text x="-645" y="42">11°0′0″N</text><text x="-830" y="42">10°0′0″N</text><text x="-1010" y="42">9°0′0″N</text></g><g transform="rotate(90)"><text x="90" y="-756">14°0′0″N</text><text x="275" y="-756">13°0′0″N</text><text x="460" y="-756">12°0′0″N</text><text x="645" y="-756">11°0′0″N</text><text x="830" y="-756">10°0′0″N</text><text x="1010" y="-756">9°0′0″N</text></g></g>
<g class="p"><text x="165" y="382" font-size="17">Myanmar</text><text x="245" y="107">Kanchanaburi</text><text x="385" y="88">Suphan Buri</text><text x="295" y="127">Nakhon Pathom</text><text x="485" y="84">Pathum Thani</text><text x="680" y="90">Chachoengsao</text><text x="600" y="162">Chon Buri</text><text x="700" y="177">Rayong</text><text x="630" y="235">Chanthaburi</text><text x="285" y="338">Phetchaburi</text><text x="150" y="722">Chumphon</text><text x="95" y="792">Ranong</text><text x="110" y="966">Surat Thani</text><text x="290" y="1024">Nakhon Si Thammarat</text></g>
<g class="s"><text x="492" y="1000">0</text><text x="540" y="1000">25</text><text x="588" y="1000">50</text><text x="672" y="1000">100 km</text><text x="590" y="915">N</text></g>
</g>

<!-- ===== SST Apr ===== -->
<g transform="translate(2164 289.33) scale(.3333)">
<use href="#bg"/>
<g clip-path="url(#cp)"><rect x="100" y="90" width="460" height="950" class="d"/><use href="#k21" class="e"/><use href="#grid"/></g>
<use href="#fg"/>
<g class="n"><text x="400" y="146">2</text><text x="470" y="163">3</text><text x="338" y="283">4</text><text x="390" y="266">5</text><text x="465" y="268">6</text><text x="333" y="411">7</text><text x="392" y="366">8</text><text x="488" y="366">9</text><text x="316" y="477">10</text><text x="392" y="471">11</text><text x="490" y="471">12</text><text x="293" y="571">13</text><text x="390" y="571">14</text><text x="222" y="699">15</text><text x="292" y="673">16</text><text x="390" y="673">17</text><text x="218" y="778">18</text><text x="290" y="776">19</text><text x="390" y="776">20</text><text x="208" y="876">21</text><text x="310" y="876">22</text><text x="398" y="876">23</text><text x="258" y="968">24</text><text x="393" y="979">25</text></g>
<g class="t"><text x="140" y="46">99°0′0″E</text><text x="320" y="46">100°0′0″E</text><text x="510" y="46">101°0′0″E</text><text x="690" y="46">102°0′0″E</text><text x="140" y="1083">99°0′0″E</text><text x="320" y="1083">100°0′0″E</text><text x="510" y="1083">101°0′0″E</text><text x="690" y="1083">102°0′0″E</text><g transform="rotate(-90)"><text x="-90" y="42">14°0′0″N</text><text x="-275" y="42">13°0′0″N</text><text x="-460" y="42">12°0′0″N</text><text x="-645" y="42">11°0′0″N</text><text x="-830" y="42">10°0′0″N</text><text x="-1010" y="42">9°0′0″N</text></g><g transform="rotate(90)"><text x="90" y="-756">14°0′0″N</text><text x="275" y="-756">13°0′0″N</text><text x="460" y="-756">12°0′0″N</text><text x="645" y="-756">11°0′0″N</text><text x="830" y="-756">10°0′0″N</text><text x="1010" y="-756">9°0′0″N</text></g></g>
<g class="p"><text x="165" y="382" font-size="17">Myanmar</text><text x="245" y="107">Kanchanaburi</text><text x="385" y="88">Suphan Buri</text><text x="295" y="127">Nakhon Pathom</text><text x="485" y="84">Pathum Thani</text><text x="680" y="90">Chachoengsao</text><text x="600" y="162">Chon Buri</text><text x="700" y="177">Rayong</text><text x="630" y="235">Chanthaburi</text><text x="285" y="338">Phetchaburi</text><text x="150" y="722">Chumphon</text><text x="95" y="792">Ranong</text><text x="110" y="966">Surat Thani</text><text x="290" y="1024">Nakhon Si Thammarat</text></g>
<g class="s"><text x="492" y="1000">0</text><text x="540" y="1000">25</text><text x="588" y="1000">50</text><text x="672" y="1000">100 km</text><text x="590" y="915">N</text></g>
</g>

<!-- ===== SST May ===== -->
<g transform="translate(1281 692.33) scale(.3333)">
<use href="#bg"/>
<g clip-path="url(#cp)"><rect x="100" y="90" width="460" height="950" class="e"/><use href="#k7" class="d"/><use href="#k10" class="d"/><use href="#k13" class="d"/><use href="#k15" class="d"/><use href="#k16" class="d"/><use href="#k18" class="d"/><use href="#k19" class="d"/><use href="#grid"/></g>
<use href="#fg"/>
<g class="n"><text x="400" y="146">2</text><text x="470" y="163">3</text><text x="338" y="283">4</text><text x="390" y="266">5</text><text x="465" y="268">6</text><text x="333" y="411">7</text><text x="392" y="366">8</text><text x="488" y="366">9</text><text x="316" y="477">10</text><text x="392" y="471">11</text><text x="490" y="471">12</text><text x="293" y="571">13</text><text x="390" y="571">14</text><text x="222" y="699">15</text><text x="292" y="673">16</text><text x="390" y="673">17</text><text x="218" y="778">18</text><text x="290" y="776">19</text><text x="390" y="776">20</text><text x="208" y="876">21</text><text x="310" y="876">22</text><text x="398" y="876">23</text><text x="258" y="968">24</text><text x="393" y="979">25</text></g>
<g class="t"><text x="140" y="46">99°0′0″E</text><text x="320" y="46">100°0′0″E</text><text x="510" y="46">101°0′0″E</text><text x="690" y="46">102°0′0″E</text><text x="140" y="1083">99°0′0″E</text><text x="320" y="1083">100°0′0″E</text><text x="510" y="1083">101°0′0″E</text><text x="690" y="1083">102°0′0″E</text><g transform="rotate(-90)"><text x="-90" y="42">14°0′0″N</text><text x="-275" y="42">13°0′0″N</text><text x="-460" y="42">12°0′0″N</text><text x="-645" y="42">11°0′0″N</text><text x="-830" y="42">10°0′0″N</text><text x="-1010" y="42">9°0′0″N</text></g><g transform="rotate(90)"><text x="90" y="-756">14°0′0″N</text><text x="275" y="-756">13°0′0″N</text><text x="460" y="-756">12°0′0″N</text><text x="645" y="-756">11°0′0″N</text><text x="830" y="-756">10°0′0″N</text><text x="1010" y="-756">9°0′0″N</text></g></g>
<g class="p"><text x="165" y="382" font-size="17">Myanmar</text><text x="245" y="107">Kanchanaburi</text><text x="385" y="88">Suphan Buri</text><text x="295" y="127">Nakhon Pathom</text><text x="485" y="84">Pathum Thani</text><text x="680" y="90">Chachoengsao</text><text x="600" y="162">Chon Buri</text><text x="700" y="177">Rayong</text><text x="630" y="235">Chanthaburi</text><text x="285" y="338">Phetchaburi</text><text x="150" y="722">Chumphon</text><text x="95" y="792">Ranong</text><text x="110" y="966">Surat Thani</text><text x="290" y="1024">Nakhon Si Thammarat</text></g>
<g class="s"><text x="492" y="1000">0</text><text x="540" y="1000">25</text><text x="588" y="1000">50</text><text x="672" y="1000">100 km</text><text x="590" y="915">N</text></g>
</g>

<!-- ===== SST Jun ===== -->
<g transform="translate(1570 692.33) scale(.3333)">
<use href="#bg"/>
<g clip-path="url(#cp)"><rect x="100" y="90" width="460" height="950" class="d"/><use href="#grid"/></g>
<use href="#fg"/>
<g class="n"><text x="400" y="146">2</text><text x="470" y="163">3</text><text x="338" y="283">4</text><text x="390" y="266">5</text><text x="465" y="268">6</text><text x="333" y="411">7</text><text x="392" y="366">8</text><text x="488" y="366">9</text><text x="316" y="477">10</text><text x="392" y="471">11</text><text x="490" y="471">12</text><text x="293" y="571">13</text><text x="390" y="571">14</text><text x="222" y="699">15</text><text x="292" y="673">16</text><text x="390" y="673">17</text><text x="218" y="778">18</text><text x="290" y="776">19</text><text x="390" y="776">20</text><text x="208" y="876">21</text><text x="310" y="876">22</text><text x="398" y="876">23</text><text x="258" y="968">24</text><text x="393" y="979">25</text></g>
<g class="t"><text x="140" y="46">99°0′0″E</text><text x="320" y="46">100°0′0″E</text><text x="510" y="46">101°0′0″E</text><text x="690" y="46">102°0′0″E</text><text x="140" y="1083">99°0′0″E</text><text x="320" y="1083">100°0′0″E</text><text x="510" y="1083">101°0′0″E</text><text x="690" y="1083">102°0′0″E</text><g transform="rotate(-90)"><text x="-90" y="42">14°0′0″N</text><text x="-275" y="42">13°0′0″N</text><text x="-460" y="42">12°0′0″N</text><text x="-645" y="42">11°0′0″N</text><text x="-830" y="42">10°0′0″N</text><text x="-1010" y="42">9°0′0″N</text></g><g transform="rotate(90)"><text x="90" y="-756">14°0′0″N</text><text x="275" y="-756">13°0′0″N</text><text x="460" y="-756">12°0′0″N</text><text x="645" y="-756">11°0′0″N</text><text x="830" y="-756">10°0′0″N</text><text x="1010" y="-756">9°0′0″N</text></g></g>
<g class="p"><text x="165" y="382" font-size="17">Myanmar</text><text x="245" y="107">Kanchanaburi</text><text x="385" y="88">Suphan Buri</text><text x="295" y="127">Nakhon Pathom</text><text x="485" y="84">Pathum Thani</text><text x="680" y="90">Chachoengsao</text><text x="600" y="162">Chon Buri</text><text x="700" y="177">Rayong</text><text x="630" y="235">Chanthaburi</text><text x="285" y="338">Phetchaburi</text><text x="150" y="722">Chumphon</text><text x="95" y="792">Ranong</text><text x="110" y="966">Surat Thani</text><text x="290" y="1024">Nakhon Si Thammarat</text></g>
<g class="s"><text x="492" y="1000">0</text><text x="540" y="1000">25</text><text x="588" y="1000">50</text><text x="672" y="1000">100 km</text><text x="590" y="915">N</text></g>
</g>

<!-- ===== SST Jul ===== -->
<g transform="translate(1861 692.33) scale(.3333)">
<use href="#bg"/>
<g clip-path="url(#cp)"><rect x="100" y="90" width="460" height="950" class="c"/><use href="#k12" class="d"/><use href="#k14" class="d"/><use href="#k17" class="d"/><use href="#k19" class="d"/><use href="#k20" class="d"/><use href="#k22" class="d"/><use href="#k23" class="d"/><use href="#k25" class="d"/><use href="#grid"/></g>
<use href="#fg"/>
<g class="n"><text x="400" y="146">2</text><text x="470" y="163">3</text><text x="338" y="283">4</text><text x="390" y="266">5</text><text x="465" y="268">6</text><text x="333" y="411">7</text><text x="392" y="366">8</text><text x="488" y="366">9</text><text x="316" y="477">10</text><text x="392" y="471">11</text><text x="490" y="471">12</text><text x="293" y="571">13</text><text x="390" y="571">14</text><text x="222" y="699">15</text><text x="292" y="673">16</text><text x="390" y="673">17</text><text x="218" y="778">18</text><text x="290" y="776">19</text><text x="390" y="776">20</text><text x="208" y="876">21</text><text x="310" y="876">22</text><text x="398" y="876">23</text><text x="258" y="968">24</text><text x="393" y="979">25</text></g>
<g class="t"><text x="140" y="46">99°0′0″E</text><text x="320" y="46">100°0′0″E</text><text x="510" y="46">101°0′0″E</text><text x="690" y="46">102°0′0″E</text><text x="140" y="1083">99°0′0″E</text><text x="320" y="1083">100°0′0″E</text><text x="510" y="1083">101°0′0″E</text><text x="690" y="1083">102°0′0″E</text><g transform="rotate(-90)"><text x="-90" y="42">14°0′0″N</text><text x="-275" y="42">13°0′0″N</text><text x="-460" y="42">12°0′0″N</text><text x="-645" y="42">11°0′0″N</text><text x="-830" y="42">10°0′0″N</text><text x="-1010" y="42">9°0′0″N</text></g><g transform="rotate(90)"><text x="90" y="-756">14°0′0″N</text><text x="275" y="-756">13°0′0″N</text><text x="460" y="-756">12°0′0″N</text><text x="645" y="-756">11°0′0″N</text><text x="830" y="-756">10°0′0″N</text><text x="1010" y="-756">9°0′0″N</text></g></g>
<g class="p"><text x="165" y="382" font-size="17">Myanmar</text><text x="245" y="107">Kanchanaburi</text><text x="385" y="88">Suphan Buri</text><text x="295" y="127">Nakhon Pathom</text><text x="485" y="84">Pathum Thani</text><text x="680" y="90">Chachoengsao</text><text x="600" y="162">Chon Buri</text><text x="700" y="177">Rayong</text><text x="630" y="235">Chanthaburi</text><text x="285" y="338">Phetchaburi</text><text x="150" y="722">Chumphon</text><text x="95" y="792">Ranong</text><text x="110" y="966">Surat Thani</text><text x="290" y="1024">Nakhon Si Thammarat</text></g>
<g class="s"><text x="492" y="1000">0</text><text x="540" y="1000">25</text><text x="588" y="1000">50</text><text x="672" y="1000">100 km</text><text x="590" y="915">N</text></g>
</g>

<!-- ===== SST Aug ===== -->
<g transform="translate(2164 692.33) scale(.3333)">
<use href="#bg"/>
<g clip-path="url(#cp)"><rect x="100" y="90" width="460" height="950" class="c"/><use href="#grid"/></g>
<use href="#fg"/>
<g class="n"><text x="400" y="146">2</text><text x="470" y="163">3</text><text x="338" y="283">4</text><text x="390" y="266">5</text><text x="465" y="268">6</text><text x="333" y="411">7</text><text x="392" y="366">8</text><text x="488" y="366">9</text><text x="316" y="477">10</text><text x="392" y="471">11</text><text x="490" y="471">12</text><text x="293" y="571">13</text><text x="390" y="571">14</text><text x="222" y="699">15</text><text x="292" y="673">16</text><text x="390" y="673">17</text><text x="218" y="778">18</text><text x="290" y="776">19</text><text x="390" y="776">20</text><text x="208" y="876">21</text><text x="310" y="876">22</text><text x="398" y="876">23</text><text x="258" y="968">24</text><text x="393" y="979">25</text></g>
<g class="t"><text x="140" y="46">99°0′0″E</text><text x="320" y="46">100°0′0″E</text><text x="510" y="46">101°0′0″E</text><text x="690" y="46">102°0′0″E</text><text x="140" y="1083">99°0′0″E</text><text x="320" y="1083">100°0′0″E</text><text x="510" y="1083">101°0′0″E</text><text x="690" y="1083">102°0′0″E</text><g transform="rotate(-90)"><text x="-90" y="42">14°0′0″N</text><text x="-275" y="42">13°0′0″N</text><text x="-460" y="42">12°0′0″N</text><text x="-645" y="42">11°0′0″N</text><text x="-830" y="42">10°0′0″N</text><text x="-1010" y="42">9°0′0″N</text></g><g transform="rotate(90)"><text x="90" y="-756">14°0′0″N</text><text x="275" y="-756">13°0′0″N</text><text x="460" y="-756">12°0′0″N</text><text x="645" y="-756">11°0′0″N</text><text x="830" y="-756">10°0′0″N</text><text x="1010" y="-756">9°0′0″N</text></g></g>
<g class="p"><text x="165" y="382" font-size="17">Myanmar</text><text x="245" y="107">Kanchanaburi</text><text x="385" y="88">Suphan Buri</text><text x="295" y="127">Nakhon Pathom</text><text x="485" y="84">Pathum Thani</text><text x="680" y="90">Chachoengsao</text><text x="600" y="162">Chon Buri</text><text x="700" y="177">Rayong</text><text x="630" y="235">Chanthaburi</text><text x="285" y="338">Phetchaburi</text><text x="150" y="722">Chumphon</text><text x="95" y="792">Ranong</text><text x="110" y="966">Surat Thani</text><text x="290" y="1024">Nakhon Si Thammarat</text></g>
<g class="s"><text x="492" y="1000">0</text><text x="540" y="1000">25</text><text x="588" y="1000">50</text><text x="672" y="1000">100 km</text><text x="590" y="915">N</text></g>
</g>

<!-- ===== SST Sep ===== -->
<g transform="translate(1281 1096.33) scale(.3333)">
<use href="#bg"/>
<g clip-path="url(#cp)"><rect x="100" y="90" width="460" height="950" class="c"/><use href="#k25" class="d"/><use href="#grid"/></g>
<use href="#fg"/>
<g class="n"><text x="400" y="146">2</text><text x="470" y="163">3</text><text x="338" y="283">4</text><text x="390" y="266">5</text><text x="465" y="268">6</text><text x="333" y="411">7</text><text x="392" y="366">8</text><text x="488" y="366">9</text><text x="316" y="477">10</text><text x="392" y="471">11</text><text x="490" y="471">12</text><text x="293" y="571">13</text><text x="390" y="571">14</text><text x="222" y="699">15</text><text x="292" y="673">16</text><text x="390" y="673">17</text><text x="218" y="778">18</text><text x="290" y="776">19</text><text x="390" y="776">20</text><text x="208" y="876">21</text><text x="310" y="876">22</text><text x="398" y="876">23</text><text x="258" y="968">24</text><text x="393" y="979">25</text></g>
<g class="t"><text x="140" y="46">99°0′0″E</text><text x="320" y="46">100°0′0″E</text><text x="510" y="46">101°0′0″E</text><text x="690" y="46">102°0′0″E</text><text x="140" y="1083">99°0′0″E</text><text x="320" y="1083">100°0′0″E</text><text x="510" y="1083">101°0′0″E</text><text x="690" y="1083">102°0′0″E</text><g transform="rotate(-90)"><text x="-90" y="42">14°0′0″N</text><text x="-275" y="42">13°0′0″N</text><text x="-460" y="42">12°0′0″N</text><text x="-645" y="42">11°0′0″N</text><text x="-830" y="42">10°0′0″N</text><text x="-1010" y="42">9°0′0″N</text></g><g transform="rotate(90)"><text x="90" y="-756">14°0′0″N</text><text x="275" y="-756">13°0′0″N</text><text x="460" y="-756">12°0′0″N</text><text x="645" y="-756">11°0′0″N</text><text x="830" y="-756">10°0′0″N</text><text x="1010" y="-756">9°0′0″N</text></g></g>
<g class="p"><text x="165" y="382" font-size="17">Myanmar</text><text x="245" y="107">Kanchanaburi</text><text x="385" y="88">Suphan Buri</text><text x="295" y="127">Nakhon Pathom</text><text x="485" y="84">Pathum Thani</text><text x="680" y="90">Chachoengsao</text><text x="600" y="162">Chon Buri</text><text x="700" y="177">Rayong</text><text x="630" y="235">Chanthaburi</text><text x="285" y="338">Phetchaburi</text><text x="150" y="722">Chumphon</text><text x="95" y="792">Ranong</text><text x="110" y="966">Surat Thani</text><text x="290" y="1024">Nakhon Si Thammarat</text></g>
<g class="s"><text x="492" y="1000">0</text><text x="540" y="1000">25</text><text x="588" y="1000">50</text><text x="672" y="1000">100 km</text><text x="590" y="915">N</text></g>
</g>

<!-- ===== SST Oct ===== -->
<g transform="translate(1570 1096.33) scale(.3333)">
<use href="#bg"/>
<g clip-path="url(#cp)"><rect x="100" y="90" width="460" height="950" class="c"/><use href="#grid"/></g>
<use href="#fg"/>
<g class="n"><text x="400" y="146">2</text><text x="470" y="163">3</text><text x="338" y="283">4</text><text x="390" y="266">5</text><text x="465" y="268">6</text><text x="333" y="411">7</text><text x="392" y="366">8</text><text x="488" y="366">9</text><text x="316" y="477">10</text><text x="392" y="471">11</text><text x="490" y="471">12</text><text x="293" y="571">13</text><text x="390" y="571">14</text><text x="222" y="699">15</text><text x="292" y="673">16</text><text x="390" y="673">17</text><text x="218" y="778">18</text><text x="290" y="776">19</text><text x="390" y="776">20</text><text x="208" y="876">21</text><text x="310" y="876">22</text><text x="398" y="876">23</text><text x="258" y="968">24</text><text x="393" y="979">25</text></g>
<g class="t"><text x="140" y="46">99°0′0″E</text><text x="320" y="46">100°0′0″E</text><text x="510" y="46">101°0′0″E</text><text x="690" y="46">102°0′0″E</text><text x="140" y="1083">99°0′0″E</text><text x="320" y="1083">100°0′0″E</text><text x="510" y="1083">101°0′0″E</text><text x="690" y="1083">102°0′0″E</text><g transform="rotate(-90)"><text x="-90" y="42">14°0′0″N</text><text x="-275" y="42">13°0′0″N</text><text x="-460" y="42">12°0′0″N</text><text x="-645" y="42">11°0′0″N</text><text x="-830" y="42">10°0′0″N</text><text x="-1010" y="42">9°0′0″N</text></g><g transform="rotate(90)"><text x="90" y="-756">14°0′0″N</text><text x="275" y="-756">13°0′0″N</text><text x="460" y="-756">12°0′0″N</text><text x="645" y="-756">11°0′0″N</text><text x="830" y="-756">10°0′0″N</text><text x="1010" y="-756">9°0′0″N</text></g></g>
<g class="p"><text x="165" y="382" font-size="17">Myanmar</text><text x="245" y="107">Kanchanaburi</text><text x="385" y="88">Suphan Buri</text><text x="295" y="127">Nakhon Pathom</text><text x="485" y="84">Pathum Thani</text><text x="680" y="90">Chachoengsao</text><text x="600" y="162">Chon Buri</text><text x="700" y="177">Rayong</text><text x="630" y="235">Chanthaburi</text><text x="285" y="338">Phetchaburi</text><text x="150" y="722">Chumphon</text><text x="95" y="792">Ranong</text><text x="110" y="966">Surat Thani</text><text x="290" y="1024">Nakhon Si Thammarat</text></g>
<g class="s"><text x="492" y="1000">0</text><text x="540" y="1000">25</text><text x="588" y="1000">50</text><text x="672" y="1000">100 km</text><text x="590" y="915">N</text></g>
</g>

<!-- ===== SST Nov ===== -->
<g transform="translate(1861 1096.33) scale(.3333)">
<use href="#bg"/>
<g clip-path="url(#cp)"><rect x="100" y="90" width="460" height="950" class="c"/><use href="#grid"/></g>
<use href="#fg"/>
<g class="n"><text x="400" y="146">2</text><text x="470" y="163">3</text><text x="338" y="283">4</text><text x="390" y="266">5</text><text x="465" y="268">6</text><text x="333" y="411">7</text><text x="392" y="366">8</text><text x="488" y="366">9</text><text x="316" y="477">10</text><text x="392" y="471">11</text><text x="490" y="471">12</text><text x="293" y="571">13</text><text x="390" y="571">14</text><text x="222" y="699">15</text><text x="292" y="673">16</text><text x="390" y="673">17</text><text x="218" y="778">18</text><text x="290" y="776">19</text><text x="390" y="776">20</text><text x="208" y="876">21</text><text x="310" y="876">22</text><text x="398" y="876">23</text><text x="258" y="968">24</text><text x="393" y="979">25</text></g>
<g class="t"><text x="140" y="46">99°0′0″E</text><text x="320" y="46">100°0′0″E</text><text x="510" y="46">101°0′0″E</text><text x="690" y="46">102°0′0″E</text><text x="140" y="1083">99°0′0″E</text><text x="320" y="1083">100°0′0″E</text><text x="510" y="1083">101°0′0″E</text><text x="690" y="1083">102°0′0″E</text><g transform="rotate(-90)"><text x="-90" y="42">14°0′0″N</text><text x="-275" y="42">13°0′0″N</text><text x="-460" y="42">12°0′0″N</text><text x="-645" y="42">11°0′0″N</text><text x="-830" y="42">10°0′0″N</text><text x="-1010" y="42">9°0′0″N</text></g><g transform="rotate(90)"><text x="90" y="-756">14°0′0″N</text><text x="275" y="-756">13°0′0″N</text><text x="460" y="-756">12°0′0″N</text><text x="645" y="-756">11°0′0″N</text><text x="830" y="-756">10°0′0″N</text><text x="1010" y="-756">9°0′0″N</text></g></g>
<g class="p"><text x="165" y="382" font-size="17">Myanmar</text><text x="245" y="107">Kanchanaburi</text><text x="385" y="88">Suphan Buri</text><text x="295" y="127">Nakhon Pathom</text><text x="485" y="84">Pathum Thani</text><text x="680" y="90">Chachoengsao</text><text x="600" y="162">Chon Buri</text><text x="700" y="177">Rayong</text><text x="630" y="235">Chanthaburi</text><text x="285" y="338">Phetchaburi</text><text x="150" y="722">Chumphon</text><text x="95" y="792">Ranong</text><text x="110" y="966">Surat Thani</text><text x="290" y="1024">Nakhon Si Thammarat</text></g>
<g class="s"><text x="492" y="1000">0</text><text x="540" y="1000">25</text><text x="588" y="1000">50</text><text x="672" y="1000">100 km</text><text x="590" y="915">N</text></g>
</g>

<!-- ===== SST Dec ===== -->
<g transform="translate(2164 1096.33) scale(.3333)">
<use href="#bg"/>
<g clip-path="url(#cp)"><rect x="100" y="90" width="460" height="950" class="b"/><use href="#k2" class="a"/><use href="#k10" class="a"/><use href="#k15" class="a"/><use href="#k21" class="a"/><use href="#k24" class="a"/><use href="#grid"/></g>
<use href="#fg"/>
<g class="n"><text x="400" y="146">2</text><text x="470" y="163">3</text><text x="338" y="283">4</text><text x="390" y="266">5</text><text x="465" y="268">6</text><text x="333" y="411">7</text><text x="392" y="366">8</text><text x="488" y="366">9</text><text x="316" y="477">10</text><text x="392" y="471">11</text><text x="490" y="471">12</text><text x="293" y="571">13</text><text x="390" y="571">14</text><text x="222" y="699">15</text><text x="292" y="673">16</text><text x="390" y="673">17</text><text x="218" y="778">18</text><text x="290" y="776">19</text><text x="390" y="776">20</text><text x="208" y="876">21</text><text x="310" y="876">22</text><text x="398" y="876">23</text><text x="258" y="968">24</text><text x="393" y="979">25</text></g>
<g class="t"><text x="140" y="46">99°0′0″E</text><text x="320" y="46">100°0′0″E</text><text x="510" y="46">101°0′0″E</text><text x="690" y="46">102°0′0″E</text><text x="140" y="1083">99°0′0″E</text><text x="320" y="1083">100°0′0″E</text><text x="510" y="1083">101°0′0″E</text><text x="690" y="1083">102°0′0″E</text><g transform="rotate(-90)"><text x="-90" y="42">14°0′0″N</text><text x="-275" y="42">13°0′0″N</text><text x="-460" y="42">12°0′0″N</text><text x="-645" y="42">11°0′0″N</text><text x="-830" y="42">10°0′0″N</text><text x="-1010" y="42">9°0′0″N</text></g><g transform="rotate(90)"><text x="90" y="-756">14°0′0″N</text><text x="275" y="-756">13°0′0″N</text><text x="460" y="-756">12°0′0″N</text><text x="645" y="-756">11°0′0″N</text><text x="830" y="-756">10°0′0″N</text><text x="1010" y="-756">9°0′0″N</text></g></g>
<g class="p"><text x="165" y="382" font-size="17">Myanmar</text><text x="245" y="107">Kanchanaburi</text><text x="385" y="88">Suphan Buri</text><text x="295" y="127">Nakhon Pathom</text><text x="485" y="84">Pathum Thani</text><text x="680" y="90">Chachoengsao</text><text x="600" y="162">Chon Buri</text><text x="700" y="177">Rayong</text><text x="630" y="235">Chanthaburi</text><text x="285" y="338">Phetchaburi</text><text x="150" y="722">Chumphon</text><text x="95" y="792">Ranong</text><text x="110" y="966">Surat Thani</text><text x="290" y="1024">Nakhon Si Thammarat</text></g>
<g class="s"><text x="492" y="1000">0</text><text x="540" y="1000">25</text><text x="588" y="1000">50</text><text x="672" y="1000">100 km</text><text x="590" y="915">N</text></g>
</g>

<!-- Month labels -->
<g class="m">
<text x="214" y="687">January</text><text x="511" y="687">February</text><text x="807" y="687">March</text><text x="1104" y="687">April</text>
<text x="1415" y="687">January</text><text x="1704" y="687">February</text><text x="1995" y="687">March</text><text x="2298" y="687">April</text>
<text x="214" y="1090">May</text><text x="511" y="1090">June</text><text x="807" y="1090">July</text><text x="1104" y="1090">August</text>
<text x="1415" y="1090">May</text><text x="1704" y="1090">June</text><text x="1995" y="1090">July</text><text x="2298" y="1090">August</text>
<text x="214" y="1493">September</text><text x="511" y="1493">October</text><text x="807" y="1493">November</text><text x="1104" y="1493">December</text>
<text x="1415" y="1493">September</text><text x="1704" y="1493">October</text><text x="1995" y="1493">November</text><text x="2298" y="1493">December</text>
</g>

<!-- Chl legend -->
<g style="font-size:20px;fill:#111">
<text x="79" y="1542" textLength="81" lengthAdjust="spacingAndGlyphs" style="font-size:22px">Legend</text>
<rect x="81" y="1560" width="56" height="28" class="Y" stroke="#d4d4d4" stroke-width="1.5"/>
<text x="150" y="1590">≤</text><text x="165" y="1590" textLength="126" lengthAdjust="spacingAndGlyphs">3.000 mg/m</text><text x="292" y="1577" style="font-size:12px;fill:#555">3</text>
<rect x="375" y="1520" width="54" height="27" class="L" stroke="#d4d4d4" stroke-width="1.5"/>
<text x="460" y="1542" textLength="204" lengthAdjust="spacingAndGlyphs">3.001 – 6.000 mg/m</text><text x="666" y="1529" style="font-size:12px;fill:#555">3</text>
<rect x="375" y="1567" width="54" height="26" class="B" stroke="#d4d4d4" stroke-width="1.5"/>
<text x="458" y="1590" textLength="206" lengthAdjust="spacingAndGlyphs">6.001 – 9.000 mg/m</text><text x="666" y="1577" style="font-size:12px;fill:#555">3</text>
<rect x="731" y="1520" width="52" height="26" class="O" stroke="#d4d4d4" stroke-width="1.5"/>
<text x="806" y="1542" textLength="219" lengthAdjust="spacingAndGlyphs">9.001 – 12.000 mg/m</text><text x="1027" y="1529" style="font-size:12px;fill:#555">3</text>
<rect x="731" y="1567" width="52" height="27" class="D" stroke="#d4d4d4" stroke-width="1.5"/>
<text x="805" y="1590">≥</text><text x="820" y="1590" textLength="140" lengthAdjust="spacingAndGlyphs">12.001 mg/m</text><text x="962" y="1577" style="font-size:12px;fill:#555">3</text>
</g>

<!-- SST legend -->
<g style="font-size:20px;fill:#111">
<text x="1284" y="1542" textLength="81" lengthAdjust="spacingAndGlyphs" style="font-size:22px">Legend</text>
<rect x="1284" y="1560" width="56" height="28" class="a" stroke="#d4d4d4" stroke-width="1.5"/>
<text x="1349" y="1590" textLength="160" lengthAdjust="spacingAndGlyphs">27.001 – 28.000</text><text x="1511" y="1592" style="font-size:26px;font-weight:bold">°</text><text x="1528" y="1590" style="font-size:20px;fill:#666">C</text>
<rect x="1572" y="1520" width="56" height="27" class="b" stroke="#d4d4d4" stroke-width="1.5"/>
<text x="1648" y="1542" textLength="167" lengthAdjust="spacingAndGlyphs">28.001 – 29.000</text><text x="1817" y="1544" style="font-size:26px;font-weight:bold">°</text><text x="1834" y="1542" style="font-size:20px;fill:#666">C</text>
<rect x="1572" y="1563" width="56" height="27" class="c" stroke="#d4d4d4" stroke-width="1.5"/>
<text x="1648" y="1590" textLength="167" lengthAdjust="spacingAndGlyphs">29.001 – 30.000</text><text x="1817" y="1592" style="font-size:26px;font-weight:bold">°</text><text x="1834" y="1590" style="font-size:20px;fill:#666">C</text>
<rect x="1940" y="1520" width="55" height="27" class="d" stroke="#d4d4d4" stroke-width="1.5"/>
<text x="2015" y="1542" textLength="169" lengthAdjust="spacingAndGlyphs">30.001 – 31.000</text><text x="2186" y="1544" style="font-size:26px;font-weight:bold">°</text><text x="2203" y="1542" style="font-size:20px;fill:#666">C</text>
<rect x="1940" y="1565" width="55" height="27" class="e" stroke="#d4d4d4" stroke-width="1.5"/>
<text x="2015" y="1590" textLength="169" lengthAdjust="spacingAndGlyphs">31.001 – 32.000</text><text x="2186" y="1592" style="font-size:26px;font-weight:bold">°</text><text x="2203" y="1590" style="font-size:20px;fill:#666">C</text>
</g>
</svg>
</body></html>
